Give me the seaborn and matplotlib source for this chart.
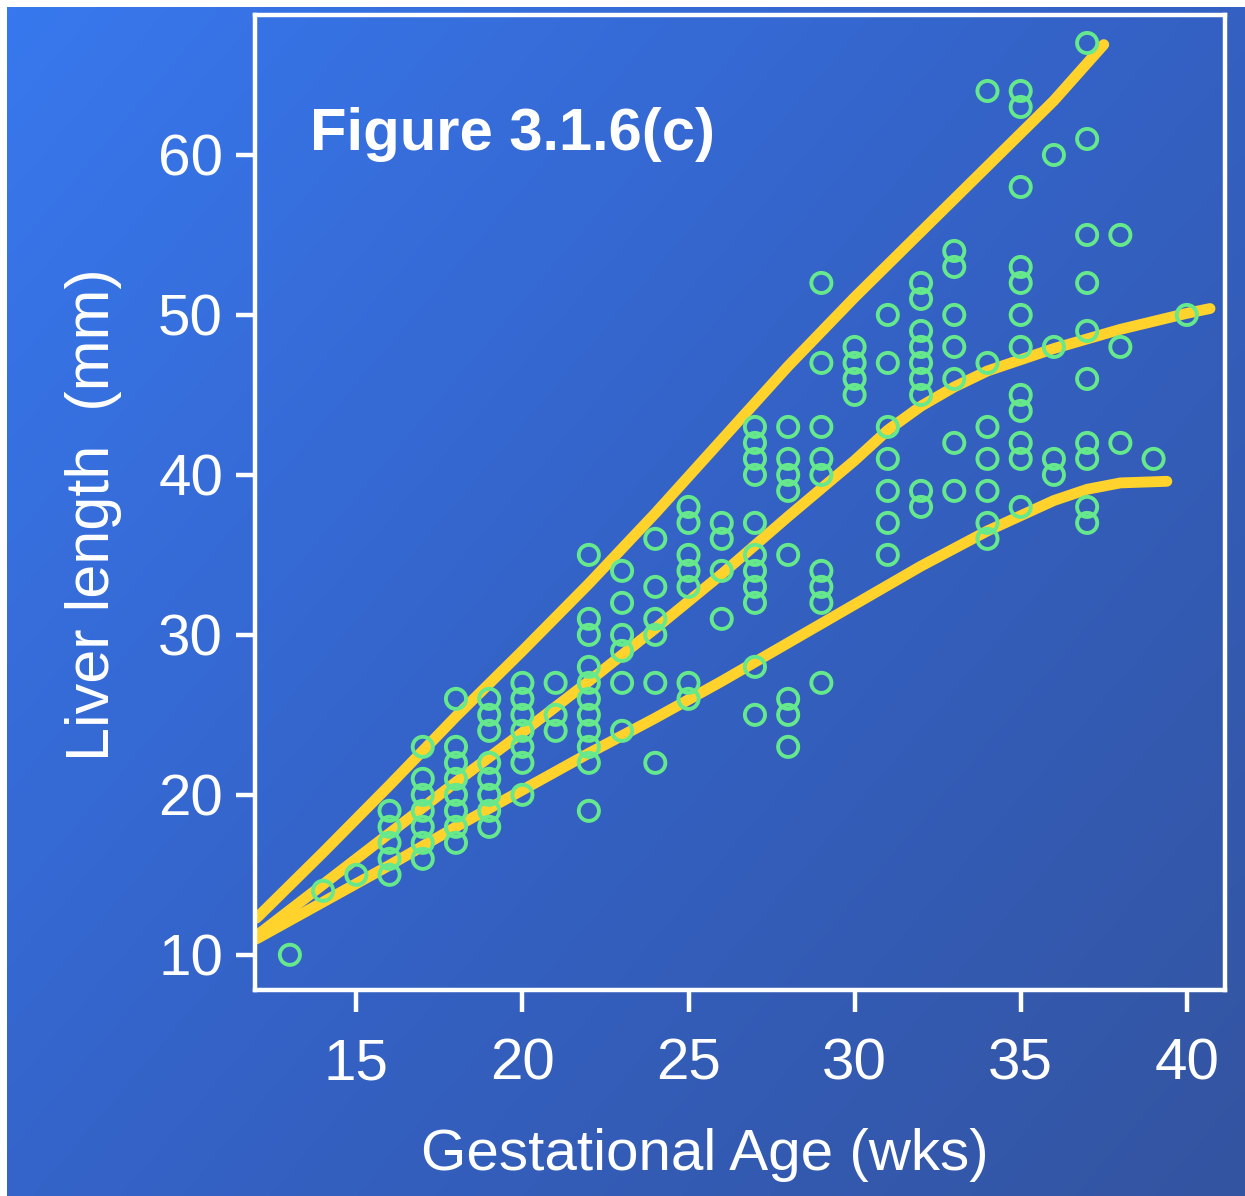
import numpy as np
import pandas as pd
import matplotlib
matplotlib.use("Agg")
import matplotlib.pyplot as plt
from matplotlib.colors import LinearSegmentedColormap
import seaborn as sns

# ---------------- data ----------------
weeks = [13, 14, 15, 16, 17, 18, 19, 20, 21, 22, 23, 24, 25, 26, 27, 28, 29,
         30, 31, 32, 33, 34, 35, 36, 37, 38, 39, 40]
liver_values = [
    [10],
    [14],
    [15],
    [19, 18, 17, 16, 15],
    [23, 21, 20, 19, 18, 17, 16],
    [26, 23, 22, 21, 20, 19, 18, 17],
    [26, 25, 24, 22, 21, 20, 19, 18],
    [27, 26, 25, 24, 23, 22, 20],
    [27, 25, 24],
    [35, 31, 30, 28, 27, 26, 25, 24, 23, 22, 19],
    [34, 32, 30, 29, 27, 24],
    [36, 33, 31, 30, 27, 22],
    [38, 37, 35, 34, 33, 27, 26],
    [37, 36, 34, 31],
    [43, 42, 41, 40, 37, 35, 34, 33, 32, 28, 25],
    [43, 41, 40, 39, 35, 26, 25, 23],
    [52, 47, 43, 41, 40, 34, 33, 32, 27],
    [48, 47, 46, 45],
    [50, 47, 43, 41, 39, 37, 35],
    [52, 51, 49, 48, 47, 46, 45, 39, 38],
    [54, 53, 50, 48, 46, 42, 39],
    [64, 47, 43, 41, 39, 37, 36],
    [64, 63, 58, 53, 52, 50, 48, 45, 44, 42, 41, 38],
    [60, 48, 41, 40],
    [67, 61, 55, 52, 49, 46, 42, 41, 38, 37],
    [55, 48, 42],
    [41],
    [50],
]

upper_x = [12, 14, 16, 18, 20, 22, 24, 26, 28, 30, 32, 34, 36, 37.5]
upper_y = [12.3, 16.4, 20.6, 24.9, 29.0, 33.2, 37.6, 42.2, 46.8, 51.1, 55.2, 59.3, 63.4, 66.9]

middle_x = [12, 14, 16, 18, 20, 22, 24, 26, 28, 30, 31, 32, 33, 34, 36, 38, 40, 40.7]
middle_y = [11.2, 14.4, 17.6, 20.8, 23.9, 27.1, 30.4, 33.8, 37.4, 40.9, 42.8, 44.3, 45.5, 46.5, 47.9, 49.1, 50.1, 50.4]

lower_x = [12, 14, 16, 18, 20, 22, 24, 26, 28, 30, 32, 34, 36, 37, 38, 39.4]
lower_y = [11.0, 13.3, 15.6, 18.0, 20.3, 22.6, 24.8, 27.1, 29.5, 31.9, 34.3, 36.5, 38.4, 39.1, 39.5, 39.6]

x_ticks = [15, 20, 25, 30, 35, 40]
y_ticks = [10, 20, 30, 40, 50, 60]
title_text = "Figure 3.1.6(c)"
x_label = "Gestational Age (wks)"
y_label = "Liver length  (mm)"

# ---------------- frames ----------------
pts = pd.DataFrame(
    [(w, v) for w, vals in zip(weeks, liver_values) for v in vals],
    columns=["week", "length"],
)
curves = pd.concat([
    pd.DataFrame({"week": upper_x, "length": upper_y, "curve": "upper"}),
    pd.DataFrame({"week": middle_x, "length": middle_y, "curve": "middle"}),
    pd.DataFrame({"week": lower_x, "length": lower_y, "curve": "lower"}),
], ignore_index=True)

# ---------------- style ----------------
sns.set_theme(style="white")
plt.rcParams["font.family"] = ["Liberation Sans", "DejaVu Sans"]
WHITE = "white"
GREEN = "#66E88C"
YELLOW = "#FFD22C"

fig = plt.figure(figsize=(12.45, 11.96), dpi=100)
fig.patch.set_facecolor("white")

# gradient background
bg = fig.add_axes([7 / 1245, 0, 1 - 7 / 1245, 1 - 7 / 1196])
bg.set_axis_off()
cmap = LinearSegmentedColormap.from_list("bgblue", ["#3878EE", "#3462C6", "#3354A0"])
gx, gy = np.meshgrid(np.linspace(0, 1, 300), np.linspace(0, 1, 300))
grad = (gx * 0.55 + gy * 0.45)
bg.imshow(grad, cmap=cmap, aspect="auto", extent=[0, 1, 0, 1], origin="upper",
          interpolation="bilinear")
bg.set_xlim(0, 1)
bg.set_ylim(0, 1)

ax = fig.add_axes([255 / 1245, 1 - 990 / 1196, 970 / 1245, 975 / 1196])
ax.set_facecolor("none")

sns.lineplot(data=curves, x="week", y="length", units="curve", estimator=None,
             sort=False, color=YELLOW, linewidth=7.8, ax=ax, zorder=2,
             solid_capstyle="round", solid_joinstyle="round")
sns.scatterplot(data=pts, x="week", y="length", ax=ax, marker="o", s=210,
                facecolors="none", edgecolor=GREEN, linewidth=2.8, zorder=3)

ax.set_xlim(11.95, 41.15)
ax.set_ylim(7.8, 68.75)
ax.set_xticks(x_ticks)
ax.set_yticks(y_ticks)

for sp in ax.spines.values():
    sp.set_color(WHITE)
    sp.set_linewidth(3.2)
    sp.set_visible(True)

ax.tick_params(axis="both", which="both", colors=WHITE, direction="out",
               width=3.2, labelsize=42)
ax.tick_params(axis="y", length=14, pad=9, left=True)
ax.tick_params(axis="x", length=16, pad=18, bottom=True)
for lab in ax.get_xticklabels() + ax.get_yticklabels():
    lab.set_color(WHITE)

ax.set_xlabel(x_label, color=WHITE, fontsize=42)
ax.set_ylabel(y_label, color=WHITE, fontsize=44)
ax.xaxis.set_label_coords(0.464, -0.142)
ax.yaxis.set_label_coords(-0.137, 0.487)

ax.text(0.0567, 0.8615, title_text, transform=ax.transAxes, color=WHITE,
        fontsize=43, fontweight="bold", va="baseline", ha="left")

fig.savefig("out.png", dpi=100, facecolor=fig.get_facecolor())
